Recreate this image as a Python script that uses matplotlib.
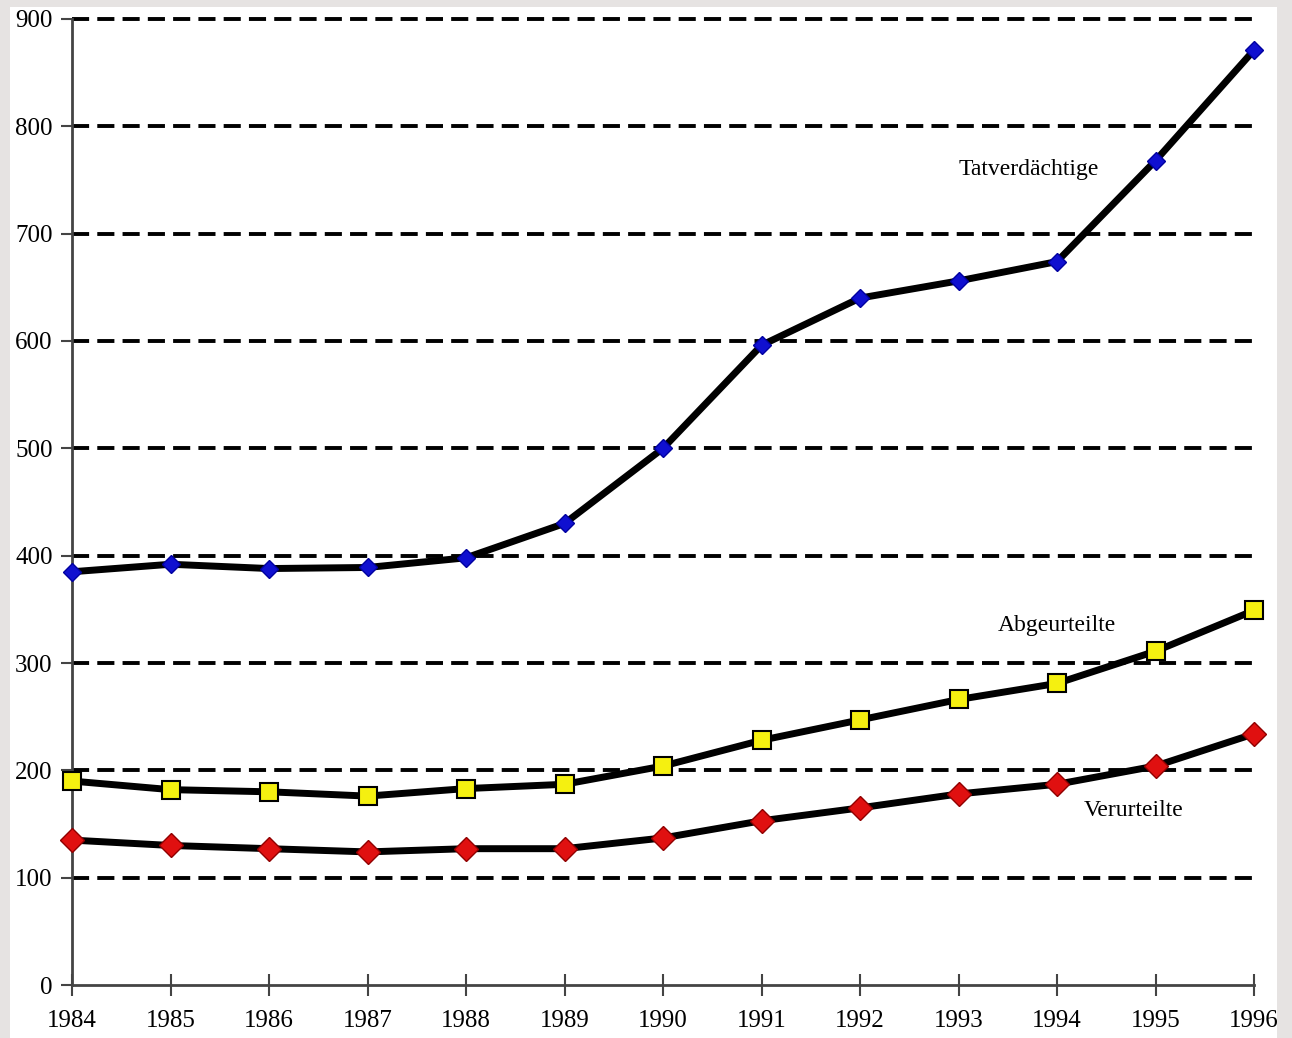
import matplotlib
matplotlib.use("Agg")
import matplotlib.pyplot as plt
from matplotlib.patches import Rectangle

years = list(range(1984, 1997))
tatverdaechtige = [385, 392, 388, 389, 398, 430, 500, 596, 640, 656, 674, 768, 871]
abgeurteilte = [190, 182, 180, 176, 183, 187, 204, 228, 247, 266, 281, 311, 349]
verurteilte = [135, 130, 127, 124, 127, 127, 137, 153, 165, 178, 187, 204, 234]
y_ticks = [0, 100, 200, 300, 400, 500, 600, 700, 800, 900]
series_labels = ["Tatverdächtige", "Abgeurteilte", "Verurteilte"]

plt.rcParams['font.family'] = ['Liberation Serif', 'DejaVu Serif']

W, H = 1292, 1038
fig = plt.figure(figsize=(W / 100, H / 100), dpi=100)
fig.patch.set_facecolor('#e6e3e2')
fig.patches.append(Rectangle((10 / W, 0), (1277 - 10) / W, (H - 7) / H,
                             transform=fig.transFigure, facecolor='white',
                             edgecolor='none', zorder=-5))

ax = fig.add_axes([72 / W, 53 / H, (1254 - 72) / W, (985 - 19) / H])
ax.set_facecolor('none')
ax.set_xlim(1984, 1996)
ax.set_ylim(0, 900)

for v in y_ticks[1:]:
    ax.axhline(v, color='black', lw=2.8, ls=(0, (4.4, 2.1)), zorder=1, clip_on=False)

ax.plot(years, tatverdaechtige, color='black', lw=5, zorder=3, clip_on=False,
        solid_capstyle='round', solid_joinstyle='round')
ax.plot(years, tatverdaechtige, ls='none', marker='D', ms=9, mfc='#1010d0',
        mec='#0000a0', mew=1, zorder=4, clip_on=False)
ax.plot(years, abgeurteilte, color='black', lw=5, zorder=3, clip_on=False,
        solid_capstyle='round', solid_joinstyle='round')
ax.plot(years, abgeurteilte, ls='none', marker='s', ms=13, mfc='#f5f010',
        mec='black', mew=1.5, zorder=4, clip_on=False)
ax.plot(years, verurteilte, color='black', lw=5, zorder=3, clip_on=False,
        solid_capstyle='round', solid_joinstyle='round')
ax.plot(years, verurteilte, ls='none', marker='D', ms=12, mfc='#e01010',
        mec='#900000', mew=1, zorder=4, clip_on=False)

ax.text(1993.71, 760, series_labels[0], ha='center', va='center', fontsize=17)
ax.text(1994.0, 335, series_labels[1], ha='center', va='center', fontsize=17)
ax.text(1994.78, 163, series_labels[2], ha='center', va='center', fontsize=17)

for s in ['top', 'right']:
    ax.spines[s].set_visible(False)
for s in ['left', 'bottom']:
    ax.spines[s].set_color('#444444')
    ax.spines[s].set_linewidth(2)

ax.set_xticks(years)
ax.set_xticklabels([str(y) for y in years])
ax.set_yticks(y_ticks)
ax.tick_params(axis='x', direction='inout', length=16, width=1.5, color='#444444',
               labelsize=18, pad=10)
ax.tick_params(axis='y', direction='out', length=8, width=1.5, color='#444444',
               labelsize=18, pad=6)
for lbl in ax.get_xticklabels():
    lbl.set_horizontalalignment('center')

fig.savefig('out.png', dpi=100)
